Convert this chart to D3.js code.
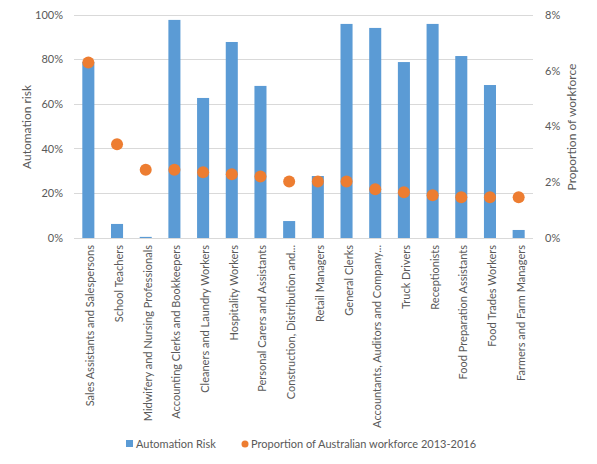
<!DOCTYPE html>
<html><head><meta charset="utf-8">
<script src="https://cdn.jsdelivr.net/npm/d3@7"></script>
<style>body{margin:0;background:#fff}svg{display:block}</style>
</head><body>
<script>
const categories = ["Sales Assistants and Salespersons","School Teachers","Midwifery and Nursing Professionals","Accounting Clerks and Bookkeepers","Cleaners and Laundry Workers","Hospitality Workers","Personal Carers and Assistants","Construction, Distribution and...","Retail Managers","General Clerks","Accountants, Auditors and Company...","Truck Drivers","Receptionists","Food Preparation Assistants","Food Trades Workers","Farmers and Farm Managers"];
const automationRisk = [0.79,0.063,0.005,0.978,0.628,0.879,0.682,0.076,0.278,0.96,0.942,0.789,0.96,0.816,0.686,0.036];
const workforceShare = [0.063,0.0336,0.0245,0.0245,0.0236,0.0229,0.0221,0.0203,0.0203,0.0203,0.0175,0.0164,0.0153,0.0146,0.0146,0.0146];
const leftTicks = [0,0.2,0.4,0.6,0.8,1.0];
const rightTicks = [0,0.02,0.04,0.06,0.08];

const W=597,H=464, L=74, R=533, T=15, B=238;
const svg=d3.select("body").append("svg").attr("width",W).attr("height",H)
  .style("font-family","Lato, 'Open Sans', sans-serif");
const x=d3.scaleBand().domain(categories).range([L,R]).paddingInner(0.58).paddingOuter(0.29);
const yL=d3.scaleLinear().domain([0,1]).range([B,T]);
const yR=d3.scaleLinear().domain([0,0.08]).range([B,T]);
const txt="#595959";

svg.append("g").selectAll("line").data(leftTicks).join("line")
  .attr("x1",L).attr("x2",R).attr("y1",d=>yL(d)).attr("y2",d=>yL(d))
  .attr("stroke","#d9d9d9").attr("stroke-width",1).attr("shape-rendering","crispEdges");

svg.append("g").selectAll("text").data(leftTicks).join("text")
  .attr("x",63).attr("y",d=>yL(d)).attr("dy","0.35em").attr("text-anchor","end")
  .attr("font-size",11).attr("fill",txt).text(d3.format(".0%"));
svg.append("g").selectAll("text").data(rightTicks).join("text")
  .attr("x",545).attr("y",d=>yR(d)).attr("dy","0.35em").attr("text-anchor","start")
  .attr("font-size",11).attr("fill",txt).text(d3.format(".0%"));

svg.append("text").attr("transform","translate(31,127) rotate(-90)").attr("text-anchor","middle")
  .attr("font-size",12).attr("fill",txt).text("Automation risk");
svg.append("text").attr("transform","translate(576,127) rotate(-90)").attr("text-anchor","middle")
  .attr("font-size",12).attr("fill",txt).text("Proportion of workforce");

svg.append("g").selectAll("rect").data(categories).join("rect")
  .attr("x",d=>x(d)).attr("width",x.bandwidth())
  .attr("y",(d,i)=>yL(automationRisk[i])).attr("height",(d,i)=>B-yL(automationRisk[i]))
  .attr("fill","#5b9bd5");

svg.append("g").selectAll("circle").data(categories).join("circle")
  .attr("cx",d=>x(d)+x.bandwidth()/2).attr("cy",(d,i)=>yR(workforceShare[i])).attr("r",6)
  .attr("fill","#ed7d31");

svg.append("g").selectAll("text").data(categories).join("text")
  .attr("transform",d=>`translate(${x(d)+x.bandwidth()/2+6},245) rotate(-90)`)
  .attr("text-anchor","end").attr("font-size",11).attr("fill",txt).text(d=>d);

const lg=svg.append("g");
lg.append("rect").attr("x",126).attr("y",440).attr("width",7).attr("height",7).attr("fill","#5b9bd5");
lg.append("text").attr("x",136).attr("y",444).attr("dy","0.35em").attr("font-size",11).attr("fill",txt).text("Automation Risk");
lg.append("circle").attr("cx",245).attr("cy",444).attr("r",3.5).attr("fill","#ed7d31");
lg.append("text").attr("x",251).attr("y",444).attr("dy","0.35em").attr("font-size",11).attr("fill",txt).text("Proportion of Australian workforce 2013-2016");
</script>
</body></html>
